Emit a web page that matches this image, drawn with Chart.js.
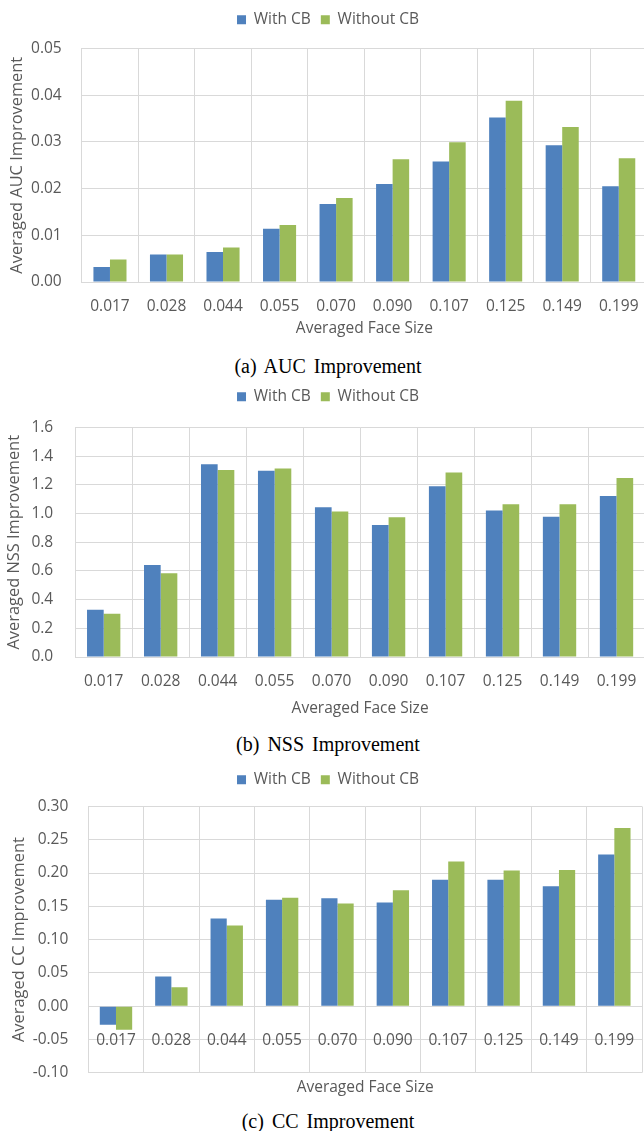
<!DOCTYPE html>
<html>
<head>
<meta charset="utf-8">
<script src="https://cdn.jsdelivr.net/npm/chart.js@4.4.1/dist/chart.umd.min.js"></script>
<style>
  html, body { margin: 0; padding: 0; background: #fff; }
  body { width: 644px; height: 1131px; overflow: hidden; position: relative; }
  .panel { position: absolute; left: 0; width: 660px; height: 340px; }
  .caption {
    position: absolute; left: 0; width: 656px; height: 24px; line-height: 24px;
    text-align: center; font-family: "Liberation Serif", "DejaVu Serif", serif;
    font-size: 20px; color: #000; word-spacing: 3px;
  }
</style>
</head>
<body>
<div class="panel" style="top:2px"><canvas id="aucChart" width="660" height="340"></canvas></div>
<div class="caption" style="top:354px">(a) AUC Improvement</div>
<div class="panel" style="top:379px"><canvas id="nssChart" width="660" height="340"></canvas></div>
<div class="caption" style="top:732px">(b) NSS Improvement</div>
<div class="panel" style="top:762px"><canvas id="ccChart" width="660" height="340"></canvas></div>
<div class="caption" style="top:1109px">(c) CC Improvement</div>

<script>
// averaged face size buckets (x categories)
const faceSizes = ['0.017', '0.028', '0.044', '0.055', '0.070', '0.090', '0.107', '0.125', '0.149', '0.199'];
const seriesNames = ['With CB', 'Without CB'];

const aucWithCB    = [0.0032, 0.0059, 0.0064, 0.0114, 0.0167, 0.0210, 0.0258, 0.0352, 0.0293, 0.0205];
const aucWithoutCB = [0.0048, 0.0059, 0.0074, 0.0122, 0.0180, 0.0263, 0.0299, 0.0388, 0.0332, 0.0265];

const nssWithCB    = [0.330, 0.641, 1.343, 1.299, 1.044, 0.920, 1.190, 1.021, 0.977, 1.123];
const nssWithoutCB = [0.302, 0.584, 1.304, 1.315, 1.014, 0.975, 1.287, 1.065, 1.065, 1.248];

const ccWithCB     = [-0.028, 0.0445, 0.1317, 0.1599, 0.162, 0.1559, 0.190, 0.190, 0.180, 0.2279];
const ccWithoutCB  = [-0.0355, 0.0285, 0.1211, 0.163, 0.1544, 0.174, 0.2173, 0.2037, 0.2047, 0.2677];

// y axis ranges: [min, max, step, decimals]
const aucTicks = [0, 0.05, 0.01, 2];
const nssTicks = [0, 1.6, 0.2, 1];
const ccTicks  = [-0.10, 0.30, 0.05, 2];

const BLUE = '#4f81bd';
const GREEN = '#9bbb59';
const GRID = '#d9d9d9';
const TEXT = '#595959';
const FONT = { family: '"Open Sans", "Noto Sans", sans-serif', size: 15.5 };
const TITLE_FONT = { family: FONT.family, size: 16.4 };

Chart.defaults.font.family = FONT.family;
Chart.defaults.font.size = FONT.size;
Chart.defaults.color = TEXT;

// extra room between the legend row and the plot
function legendGap(px) {
    return {
        id: 'legendGap',
        afterInit(chart) {
            const fit = chart.legend.fit;
            chart.legend.fit = function () {
                fit.call(this);
                this.height += px;
            };
        }
    };
}

function makeChart(id, cfg) {
    const [yMin, yMax, yStep, dec] = cfg.ticks;
    const zeroAxis = yMin < 0;
    const xTitle = {
        display: true, text: 'Averaged Face Size', color: TEXT,
        padding: { top: 0, bottom: cfg.titlePadB }
    };

    const scales = {
        x: {
            type: 'category',
            position: zeroAxis ? { y: 0 } : 'bottom',
            grid: { color: GRID, drawTicks: false, offset: true },
            border: { color: GRID },
            ticks: { padding: cfg.xPad, color: TEXT, maxRotation: 0, autoSkip: false },
            title: zeroAxis ? { display: false } : xTitle,
            afterFit: zeroAxis ? undefined : (s) => { s.height = cfg.xHeight; }
        },
        y: {
            min: yMin, max: yMax,
            grid: { color: GRID, drawTicks: false },
            border: { color: GRID },
            ticks: {
                stepSize: yStep, padding: cfg.yPad, color: TEXT,
                callback: (v) => Number(v).toFixed(dec)
            },
            title: {
                display: true, text: cfg.yTitle, color: TEXT, font: TITLE_FONT,
                padding: { top: cfg.yTitlePad, bottom: 0 }
            },
            afterFit: (s) => { s.width = cfg.yWidth; }
        }
    };

    if (zeroAxis) {
        // separate bottom axis only to carry the title under the plot
        scales.xt = {
            type: 'category',
            position: 'bottom',
            grid: { display: false },
            border: { display: false },
            ticks: { display: false },
            title: xTitle,
            afterFit: (s) => { s.height = cfg.xHeight; }
        };
    }

    return new Chart(document.getElementById(id), {
        type: 'bar',
        data: {
            labels: faceSizes,
            datasets: [
                { label: seriesNames[0], data: cfg.a, backgroundColor: BLUE, xAxisID: 'x' },
                { label: seriesNames[1], data: cfg.b, backgroundColor: GREEN, xAxisID: 'x' }
            ]
        },
        options: {
            responsive: false,
            animation: false,
            devicePixelRatio: 1,
            categoryPercentage: 0.585,
            barPercentage: 1.0,
            layout: { padding: { left: cfg.padL, right: cfg.padR, top: 0, bottom: 3 } },
            plugins: {
                legend: {
                    position: 'top',
                    labels: { boxWidth: 9, boxHeight: 9, padding: 10, color: TEXT, font: FONT }
                },
                tooltip: { enabled: false }
            },
            scales: scales
        },
        plugins: [legendGap(cfg.gap)]
    });
}

makeChart('aucChart', {
    a: aucWithCB, b: aucWithoutCB, ticks: aucTicks,
    yTitle: 'Averaged AUC Improvement',
    padL: 9, padR: 13, gap: 11, yWidth: 72.7, yPad: 20, yTitlePad: -1.3,
    xPad: 15, xHeight: 57, titlePadB: 1
});

makeChart('nssChart', {
    a: nssWithCB, b: nssWithoutCB, ticks: nssTicks,
    yTitle: 'Averaged NSS Improvement',
    padL: 11, padR: 15, gap: 13, yWidth: 64.2, yPad: 22, yTitlePad: -6.4,
    xPad: 15, xHeight: 59, titlePadB: -2
});

makeChart('ccChart', {
    a: ccWithCB, b: ccWithoutCB, ticks: ccTicks,
    yTitle: 'Averaged CC Improvement',
    padL: 12, padR: 16, gap: 9, yWidth: 76.3, yPad: 20, yTitlePad: -2.3,
    xPad: 25, xHeight: 25, titlePadB: 1
});
</script>
</body>
</html>
